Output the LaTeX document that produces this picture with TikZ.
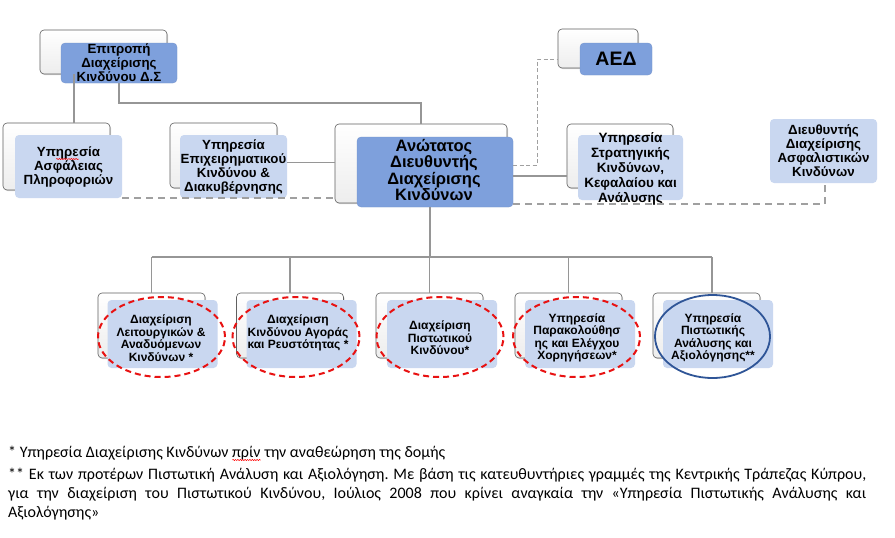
\documentclass[tikz,border=0pt]{standalone}
\usepackage{fontspec}
\setmainfont{Liberation Sans}
\newfontfamily\notefont{Carlito}
\usetikzlibrary{shapes.geometric,shadows,calc,decorations.pathmorphing}
\definecolor{darkbox}{RGB}{126,160,220}
\definecolor{lightbox}{RGB}{201,215,240}
\definecolor{conngray}{RGB}{150,150,150}
\definecolor{dashgray}{RGB}{160,160,160}
\definecolor{redd}{RGB}{232,18,18}
\definecolor{blueell}{RGB}{47,85,151}
\newsavebox{\wavebox}
\newcommand\redwave[1]{\sbox{\wavebox}{#1}\rlap{\usebox{\wavebox}}\raisebox{-3pt}{\tikz[x=1pt,y=1pt,baseline=0pt]{\draw[red,line width=0.5pt,dash pattern=,decorate,decoration={snake,amplitude=0.6pt,segment length=2.4pt}] (0pt,0pt) -- (\wd\wavebox,0pt);}}}
\frenchspacing
\begin{document}
\begin{tikzpicture}[x=1pt,y=-1pt,
  backbox/.style={draw=gray!75!black, line width=0.6pt, rounded corners=4pt,
    top color=white, bottom color=gray!14, inner sep=0pt,
    drop shadow={shadow xshift=1pt,shadow yshift=-1.2pt,opacity=0.3}},
  frontdark/.style={fill=darkbox, draw=darkbox!92!black, line width=0.3pt, rounded corners=4pt, inner sep=0pt},
  frontlight/.style={fill=lightbox, rounded corners=4pt, inner sep=0pt},
  txt/.style={align=center, inner sep=0pt, font=\bfseries\fontsize{13.3}{14}\selectfont},
  txtsmall/.style={align=center, inner sep=0pt, font=\bfseries\fontsize{12}{12.5}\selectfont},
  conn/.style={draw=conngray, line width=1.6pt},
  dashline/.style={draw=dashgray, line width=1.6pt, dash pattern=on 7pt off 5pt},
  thindash/.style={draw=dashgray, line width=0.8pt, dash pattern=on 4pt off 2.5pt},
  redell/.style={ellipse, draw=redd, line width=2pt, dash pattern=on 6pt off 4pt, minimum width=127pt, minimum height=80pt, inner sep=0pt},
  blueellst/.style={ellipse, draw=blueell, line width=1.8pt, minimum width=115pt, minimum height=83pt, inner sep=0pt}
]
\useasboundingbox (0,0) rectangle (895,538);
\fill[white] (0,0) rectangle (895,538);

% ---------- top row boxes ----------
\node[backbox, minimum width=127pt, minimum height=44pt] (epb) at (103.5,52) {};
\node[frontdark, minimum width=116pt, minimum height=40pt] (epf) at (119,63) {};
\node[txt] (ept) at (119,63) {Επιτροπή\\Διαχείρισης\\Κινδύνου Δ.Σ};

\node[backbox, minimum width=107pt, minimum height=67pt] (asb) at (56.5,156.5) {};
\node[frontlight, minimum width=107pt, minimum height=63pt] (asf) at (68.5,166.5) {};
\node[txt] (ast) at (68.5,166.5) {Υπ\redwave{ηρε}σία\\Ασφάλειας\\Πληροφοριών};

\node[backbox, minimum width=107pt, minimum height=65pt] (ebb) at (223.5,155.5) {};
\node[frontlight, minimum width=107pt, minimum height=63pt] (ebf) at (233.5,166.5) {};
\node[txt] (ebt) at (233.5,167) {Υπηρεσία\\Επιχειρηματικού\\Κινδύνου \&\\Διακυβέρνησης};

\node[backbox, minimum width=172pt, minimum height=79pt] (anb) at (421,163.5) {};
\node[frontdark, minimum width=156pt, minimum height=70pt] (anf) at (435,172) {};
\node[align=center, inner sep=0pt, font=\bfseries\fontsize{16.5}{15}\selectfont] (ant) at (434,170) {Ανώτατος\\Διευθυντής\\Διαχείρισης\\Κινδύνων};

\node[backbox, minimum width=80pt, minimum height=39pt] (aeb) at (598,48.5) {};
\node[frontdark, minimum width=72pt, minimum height=32pt] (aef) at (616,59) {};
\node[inner sep=0pt, font=\bfseries\fontsize{19.5}{20}\selectfont] (aet) at (616,59) {ΑΕΔ};

\node[backbox, minimum width=106pt, minimum height=64pt] (stb) at (620,156) {};
\node[frontlight, minimum width=105pt, minimum height=65pt] (stf) at (630.5,167.5) {};
\node[align=center, inner sep=0pt, font=\bfseries\fontsize{13.5}{15}\selectfont] (stt) at (630.5,169) {Υπηρεσία\\Στρατηγικής\\Κινδύνων,\\Κεφαλαίου και\\Ανάλυσης};

\node[frontlight, minimum width=107pt, minimum height=64pt] (dif) at (823.5,151) {};
\node[txt] (dit) at (823.5,151) {Διευθυντής\\Διαχείρισης\\Ασφαλιστικών\\Κινδύνων};

% ---------- bottom row boxes ----------
\foreach \i/\bx/\fx in {1/151.5/162.5, 2/290/301.5, 3/429.5/442, 4/568.5/580, 5/706.5/718}{
  \node[backbox, minimum width=107pt, minimum height=65pt] (b\i) at (\bx,325.5) {};
  \node[frontlight, minimum width=110pt, minimum height=68pt] (f\i) at (\fx,334) {};
}
\node[txtsmall] (t1) at (161,338) {Διαχείριση\\Λειτουργικών \&\\Αναδυόμενων\\Κινδύνων *};
\node[txtsmall] (t2) at (298,333) {Διαχείριση\\Κινδύνου Αγοράς\\και Ρευστότητας *};
\node[txtsmall] (t3) at (440,338) {Διαχείριση\\Πιστωτικού\\Κινδύνου*};
\node[txtsmall] (t4) at (577,338) {Υπηρεσία\\Παρακολούθησ\\ης και Ελέγχου\\Χορηγήσεων*};
\node[txtsmall] (t5) at (713,338) {Υπηρεσία\\Πιστωτικής\\Ανάλυσης και\\Αξιολόγησης**};

\node[redell] (e1) at (161.5,337) {};
\node[redell] (e2) at (296,337) {};
\node[redell] (e3) at (440,337) {};
\node[redell] (e4) at (576.5,337) {};
\node[blueellst] (e5) at (712.5,336.5) {};

% ---------- connectors ----------
\draw[conn] (epf.south) |- ++(0,20) -| (anb.north);
\draw[conn] ([xshift=34pt]epb.south west) -- ([xshift=34pt]epb.south west |- asb.north);
\draw[conn] ([yshift=4pt]ebf.east) -- ([yshift=4pt]ebf.east -| anb.west);
\draw[thindash] ([yshift=7pt]anf.east) -- ++(24,0) |- ([yshift=-10.5pt]aeb.west);
\draw[conn] ([yshift=-4pt]anf.east) -- ([yshift=-4pt]anf.east -| stb.west);
\draw[dashline] (asf.south east) -- (asf.south east -| anb.west);
\draw[dashline] ([yshift=3pt]anf.south east) -| ([xshift=1.5pt]dif.south);

\coordinate (bus) at (0,257);
\draw[conn] ([xshift=-5pt]anf.south) -- ([xshift=-5pt]anf.south |- bus);
\draw[conn] (b1.north |- bus) -- ([xshift=5.5pt]b5.north |- bus);
\foreach \i in {1,2,3,4}{
  \draw[conn] (b\i.north) -- (b\i.north |- bus);
}
\draw[conn] ([xshift=5.5pt]b5.north) -- ([xshift=5.5pt]b5.north |- bus);

% ---------- footnotes ----------
\node[anchor=base west, inner sep=0pt, font=\notefont\fontsize{16}{19}\selectfont] (n1) at (8,457)
  {* Υπηρεσία Διαχείρισης Κινδύνων \redwave{πρίν} την αναθεώρηση της δομής};
\node[anchor=north west, inner sep=0pt, text width=858pt, align=justify,
  font=\notefont\fontsize{16}{19}\selectfont] (n2) at (8,468)
  {\hyphenpenalty=10000 ** Εκ των προτέρων Πιστωτική Ανάλυση και Αξιολόγηση. Με βάση τις κατευθυντήριες γραμμές της Κεντρικής Τράπεζας Κύπρου,\linebreak για την διαχείριση του Πιστωτικού Κινδύνου, Ιούλιος 2008 που κρίνει αναγκαία την «Υπηρεσία Πιστωτικής Ανάλυσης και\linebreak Αξιολόγησης»};
\end{tikzpicture}
\end{document}
